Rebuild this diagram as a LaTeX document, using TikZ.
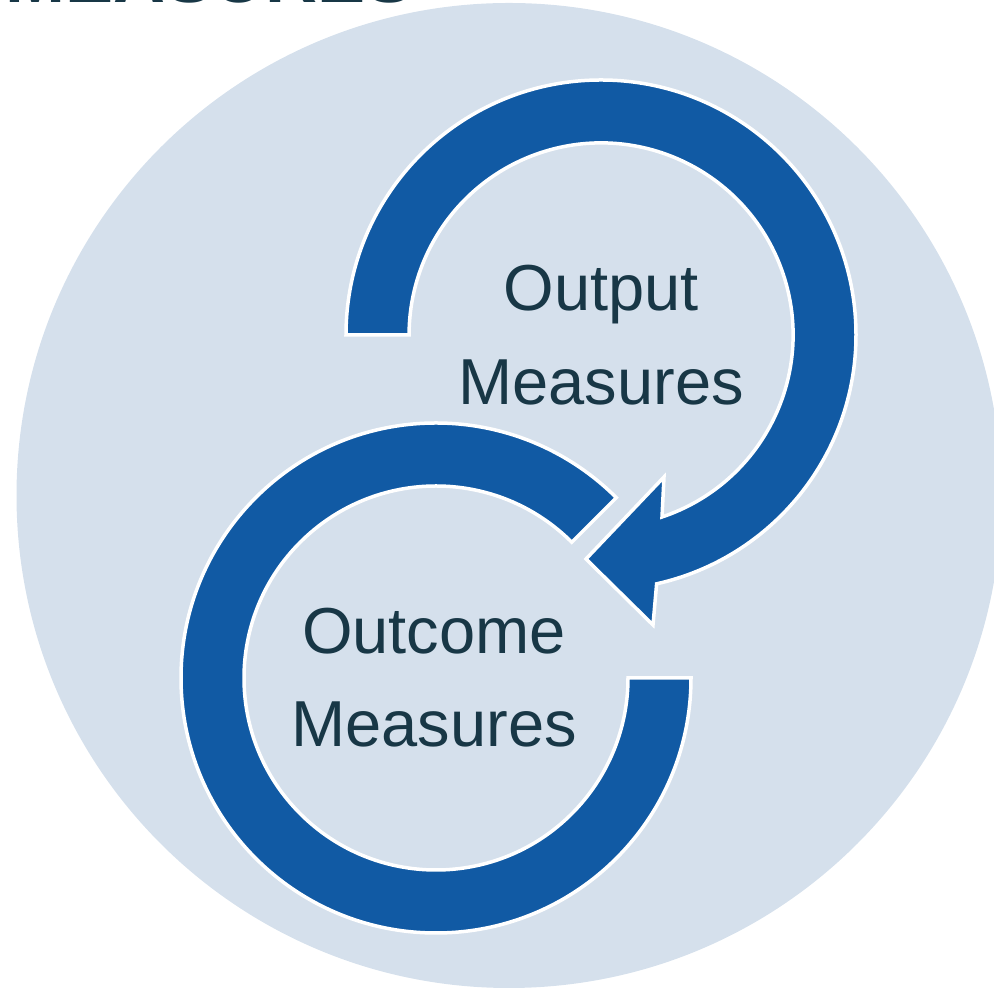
\documentclass[tikz,border=0pt]{standalone}
\usepackage{fontspec}
\setmainfont{Liberation Sans}
\usetikzlibrary{calc}
\definecolor{ringblue}{RGB}{17,90,164}
\definecolor{bglight}{RGB}{213,224,236}
\definecolor{textdark}{RGB}{24,55,70}
\tikzset{
  ring/.style={fill=ringblue, draw=white, line width=3.5pt, line join=miter},
  label/.style={inner sep=0pt, anchor=base, text=textdark, font=\fontsize{65}{78}\selectfont},
  titletext/.style={inner sep=0pt, anchor=base west, text=textdark, font=\fontsize{72}{86}\selectfont\bfseries}
}
\begin{document}
\begin{tikzpicture}[x=1pt,y=1pt]
\useasboundingbox (0,0) rectangle (994,990);
% background disc
\fill[bglight] (509,494.5) circle[radius=492.5];
% title (cut off at top, as in the reference)
\node[titletext] (title) at (5,987.5) {MEASURES};
% lower ring
\draw[ring] (436,312) ++(0:255) arc[start angle=0, end angle=-315, radius=255]
  -- ($(436,312)+(45:192)$) arc[start angle=45, end angle=360, radius=192] -- cycle;
% upper ring with arrow head
\draw[ring] (601,655) ++(180:255) arc[start angle=180, end angle=-77.4, radius=255]
  -- (653,365) -- (586,431) -- (664,513) -- (662,473)
  arc[start angle=-71.5, end angle=180, radius=192] -- cycle;
% texts
\node[label] (out1) at (601,679) {Output};
\node[label] (out2) at (601,585) {Measures};
\node[label] (oc1) at (434,336) {Outcome};
\node[label] (oc2) at (434,243) {Measures};
\end{tikzpicture}
\end{document}
